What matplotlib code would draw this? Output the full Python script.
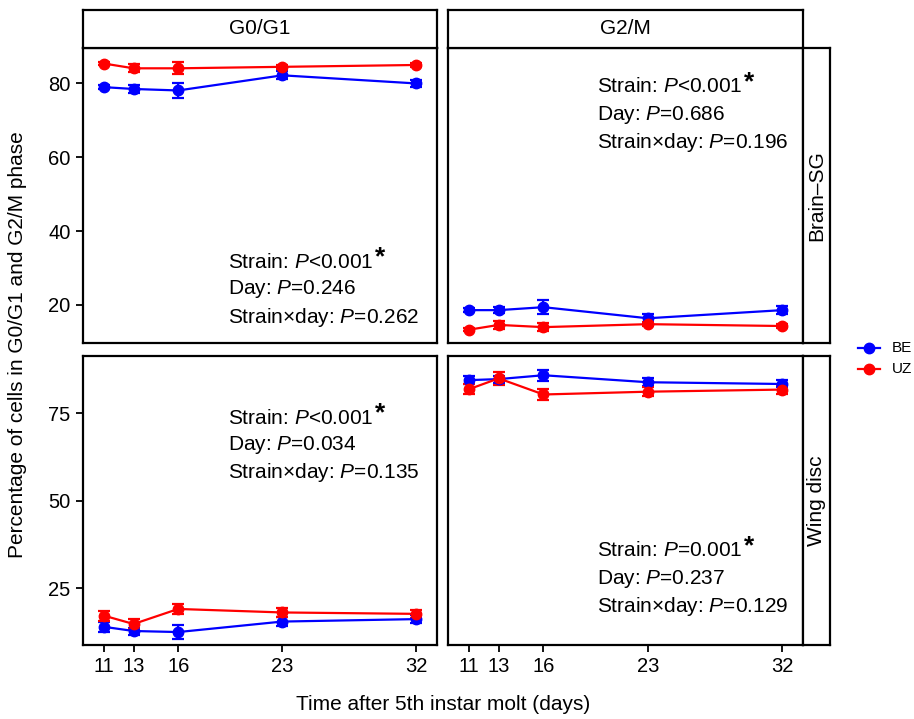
import matplotlib
matplotlib.use("Agg")
import matplotlib.pyplot as plt
from matplotlib.lines import Line2D

plt.rcParams['font.family'] = ['Liberation Sans', 'DejaVu Sans']
plt.rcParams['mathtext.fontset'] = 'custom'
plt.rcParams['mathtext.rm'] = 'Liberation Sans'
plt.rcParams['mathtext.it'] = 'Liberation Sans:italic'
plt.rcParams['mathtext.bf'] = 'Liberation Sans:bold'

days = [11, 13, 16, 23, 32]
phases = ["G0/G1", "G2/M"]
tissues = ["Brain\u2013SG", "Wing disc"]
strains = ["BE", "UZ"]

# Brain-SG
be_brain_g01 = [79.0, 78.5, 78.1, 82.2, 80.0]
be_brain_g01_err = [0.5, 1.0, 2.0, 1.1, 1.0]
uz_brain_g01 = [85.4, 84.1, 84.1, 84.5, 85.0]
uz_brain_g01_err = [0.3, 1.1, 1.6, 0.6, 0.5]
be_brain_g2m = [18.6, 18.6, 19.4, 16.4, 18.6]
be_brain_g2m_err = [0.6, 0.8, 1.9, 1.2, 1.0]
uz_brain_g2m = [13.3, 14.6, 14.0, 14.8, 14.3]
uz_brain_g2m_err = [0.4, 1.0, 1.0, 0.6, 0.5]
# Wing disc
be_wing_g01 = [14.0, 12.8, 12.5, 15.5, 16.2]
be_wing_g01_err = [1.4, 1.0, 2.0, 1.4, 1.2]
uz_wing_g01 = [17.2, 14.8, 19.1, 18.1, 17.7]
uz_wing_g01_err = [1.4, 1.3, 1.5, 1.2, 1.1]
be_wing_g2m = [84.5, 84.8, 85.9, 83.9, 83.4]
be_wing_g2m_err = [1.2, 1.0, 1.6, 1.2, 1.0]
uz_wing_g2m = [81.9, 85.0, 80.4, 81.2, 81.8]
uz_wing_g2m_err = [1.5, 1.8, 1.6, 1.2, 1.3]

annots = {
    (0, 0): ["Strain: $P$<0.001", "Day: $P$=0.246", "Strain\u00d7day: $P$=0.262"],
    (0, 1): ["Strain: $P$<0.001", "Day: $P$=0.686", "Strain\u00d7day: $P$=0.196"],
    (1, 0): ["Strain: $P$<0.001", "Day: $P$=0.034", "Strain\u00d7day: $P$=0.135"],
    (1, 1): ["Strain: $P$=0.001", "Day: $P$=0.237", "Strain\u00d7day: $P$=0.129"],
}
annot_pos = {(0, 0): (228, 262), (0, 1): (597, 87), (1, 0): (228, 418), (1, 1): (597, 551)}

data = {
    (0, 0): (be_brain_g01, be_brain_g01_err, uz_brain_g01, uz_brain_g01_err),
    (0, 1): (be_brain_g2m, be_brain_g2m_err, uz_brain_g2m, uz_brain_g2m_err),
    (1, 0): (be_wing_g01, be_wing_g01_err, uz_wing_g01, uz_wing_g01_err),
    (1, 1): (be_wing_g2m, be_wing_g2m_err, uz_wing_g2m, uz_wing_g2m_err),
}

W, H = 914, 719
fig = plt.figure(figsize=(W / 100, H / 100), dpi=100)

def rect(x0, y0, x1, y1):
    return [x0 / W, 1 - y1 / H, (x1 - x0) / W, (y1 - y0) / H]

cols = [(83, 437), (448, 803)]
rows = [(48, 343), (356, 645)]
ylims = [(9.7, 89.6), (8.8, 91.4)]
yticks = [[20, 40, 60, 80], [25, 50, 75]]

blue = '#0000FF'
red = '#FF0000'
colors = [blue, red]
FS = 15

first_lines = []
for r in range(2):
    for c in range(2):
        x0, x1 = cols[c]
        y0, y1 = rows[r]
        ax = fig.add_axes(rect(x0, y0, x1, y1))
        be, bee, uz, uze = data[(r, c)]
        for vals, errs, col in [(be, bee, blue), (uz, uze, red)]:
            ax.errorbar(days, vals, yerr=errs, color=col, marker='o', markersize=7.5,
                        linewidth=1.6, elinewidth=1.6, capsize=4.5, capthick=1.6)
        ax.set_xlim(9.6, 33.4)
        ax.set_ylim(*ylims[r])
        ax.set_xticks(days)
        ax.set_yticks(yticks[r])
        for s in ax.spines.values():
            s.set_linewidth(1.6)
            s.set_color('black')
        ax.tick_params(direction='out', length=5, width=1.3, labelsize=14.5, colors='black', pad=4)
        if c == 1:
            ax.tick_params(axis='y', labelleft=False, length=0)
        if r == 0:
            ax.tick_params(axis='x', labelbottom=False, length=0)
        lines = annots[(r, c)]
        px, py = annot_pos[(r, c)]
        for i, t in enumerate(lines):
            txt = fig.text(px / W, 1 - (py + i * 27.5) / H, t, fontsize=FS, va='center', ha='left')
            if i == 0:
                first_lines.append((txt, py))

# asterisks after the first annotation line
fig.canvas.draw()
renderer = fig.canvas.get_renderer()
for txt, py in first_lines:
    bb = txt.get_window_extent(renderer=renderer)
    fig.text((bb.x1 + 1) / W, 1 - (py - 5) / H, "*", fontsize=19, fontweight='bold',
             va='center', ha='left')

# top strips
for c, lab in enumerate(phases):
    x0, x1 = cols[c]
    sax = fig.add_axes(rect(x0, 10, x1, 48))
    sax.set_xticks([]); sax.set_yticks([])
    for s in sax.spines.values():
        s.set_linewidth(1.6)
    sax.text(0.5, 0.5, lab, ha='center', va='center', fontsize=FS, transform=sax.transAxes)
# right strips
for r, lab in enumerate(tissues):
    y0, y1 = rows[r]
    sax = fig.add_axes(rect(803, y0, 830, y1))
    sax.set_xticks([]); sax.set_yticks([])
    for s in sax.spines.values():
        s.set_linewidth(1.6)
    sax.text(0.5, 0.5, lab, ha='center', va='center', fontsize=FS, rotation=90,
             transform=sax.transAxes)

# axis labels
fig.text(443 / W, 1 - 705 / H, "Time after 5th instar molt (days)", ha='center', va='center', fontsize=FS)
fig.text(18 / W, 1 - 345 / H, "Percentage of cells in G0/G1 and G2/M phase", ha='center', va='center',
         fontsize=FS, rotation=90)

# legend drawn manually
lax = fig.add_axes([0, 0, 1, 1], facecolor='none')
lax.set_xlim(0, W); lax.set_ylim(H, 0); lax.axis('off')
for i, (lab, col) in enumerate(zip(strains, colors)):
    yy = 348 + i * 21
    lax.plot([858, 880], [yy, yy], color=col, linewidth=1.6)
    lax.plot([869], [yy], color=col, marker='o', markersize=7.5)
    lax.text(892, yy, lab, fontsize=11, va='center', ha='left')

fig.savefig("out.png", dpi=100)
